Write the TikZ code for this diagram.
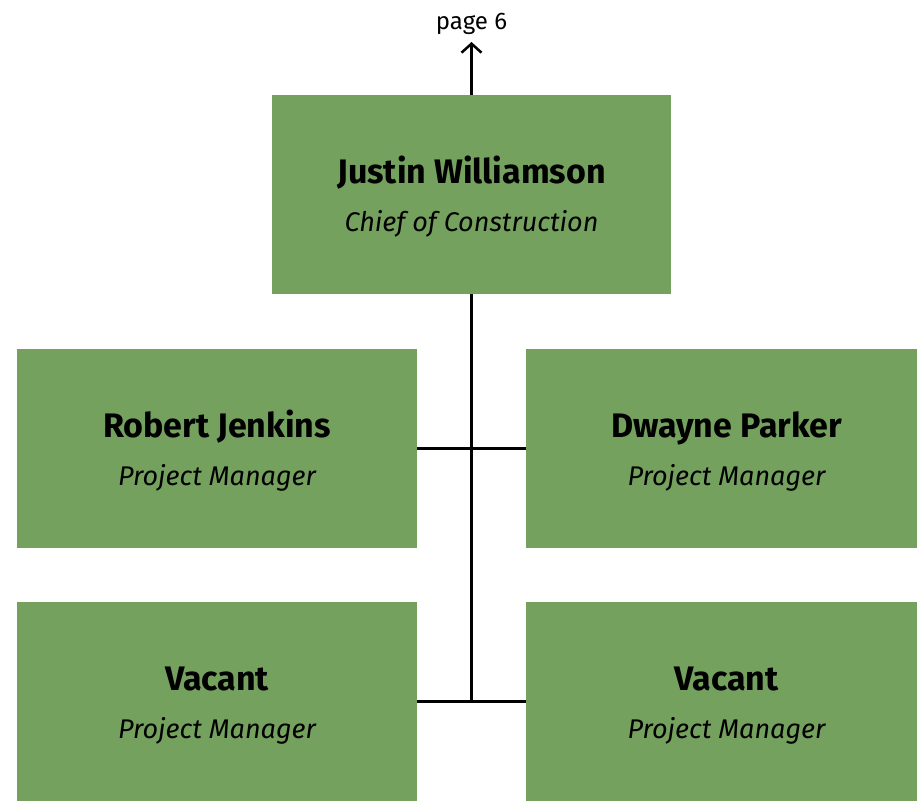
\documentclass[tikz,border=0pt]{standalone}
\usepackage{fontspec}
\setmainfont{Fira Sans}
\usetikzlibrary{arrows.meta}
\definecolor{boxgreen}{RGB}{116,161,94}
\tikzset{
  box/.style={fill=boxgreen, draw=none, minimum width=#1, minimum height=199pt, inner sep=0pt},
  box/.default=400pt,
  namet/.style={anchor=base, font=\fontsize{34}{37}\selectfont\bfseries, text=black},
  titlet/.style={anchor=base, font=\fontsize{27}{30}\selectfont\itshape, text=black},
  conn/.style={line width=2.5pt, black},
}
\begin{document}
\begin{tikzpicture}[x=1pt,y=-1pt]
\useasboundingbox (0,0) rectangle (917,801);
\begin{scope}
\clip (0,0) rectangle (917,801);
\node[box=399pt] (top) at (471.5,194.5) {};
\node[box] (rob) at (217,448.5) {};
\node[box=401pt] (dw) at (726.5,448.5) {};
\node[box] (v1) at (217,701.5) {};
\node[box=401pt] (v2) at (726.5,701.5) {};
\end{scope}
\node[namet] (topn) at ([yshift=11.5pt]top.center) {Justin Williamson};
\node[titlet] (topt) at ([yshift=-37pt]top.center) {Chief of Construction};
\node[namet] (robn) at ([yshift=11.5pt]rob.center) {Robert Jenkins};
\node[titlet] (robt) at ([yshift=-37pt]rob.center) {Project Manager};
\node[namet] (dwn) at ([yshift=11.5pt]dw.center) {Dwayne Parker};
\node[titlet] (dwt) at ([yshift=-37pt]dw.center) {Project Manager};
\node[namet] (v1n) at ([yshift=11.5pt]v1.center) {Vacant};
\node[titlet] (v1t) at ([yshift=-37pt]v1.center) {Project Manager};
\node[namet] (v2n) at ([yshift=11.5pt]v2.center) {Vacant};
\node[titlet] (v2t) at ([yshift=-37pt]v2.center) {Project Manager};
\coordinate (up) at (471.5,42);
\node[anchor=base, font=\fontsize{24}{27}\selectfont] (pg) at (471.5,29) {page 6};
\draw[conn, -{Straight Barb[length=9pt,width=20pt]}] (top.north) -- (up);
\coordinate (bot) at (471.5,701.5);
\draw[conn] (top.south) -- (bot);
\draw[conn] (rob.east) -- (dw.west);
\draw[conn] (v1.east) -- (v2.west);
\end{tikzpicture}
\end{document}
